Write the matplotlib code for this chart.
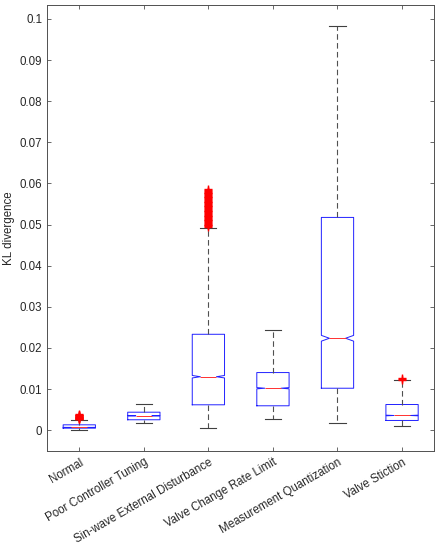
import matplotlib
matplotlib.use("Agg")
import matplotlib.pyplot as plt

categories = ["Normal", "Poor Controller Tuning", "Sin-wave External Disturbance",
              "Valve Change Rate Limit", "Measurement Quantization", "Valve Stiction"]
medians = [0.00066, 0.0035, 0.0130, 0.0102, 0.02235, 0.00357]
q1 = [0.00049, 0.00253, 0.00617, 0.00593, 0.0102, 0.00236]
q3 = [0.0013, 0.00437, 0.02332, 0.01401, 0.05174, 0.00624]
whisker_low = [0.0000, 0.0018, 0.00058, 0.0026, 0.0017, 0.0009]
whisker_high = [0.0025, 0.0064, 0.04907, 0.02439, 0.09837, 0.01214]
notch_half = [0.00002, 0.00005, 0.0003, 0.00015, 0.0007, 0.00008]
outliers = [
    [0.0026, 0.0027, 0.0028, 0.0029, 0.0030, 0.00305, 0.0031, 0.0032, 0.0033,
     0.0034, 0.0035, 0.0036, 0.0037, 0.0038, 0.0039],
    [],
    [0.0494, 0.0496, 0.0498, 0.0500, 0.0502, 0.0504, 0.0506, 0.0508, 0.0510,
     0.0512, 0.0514, 0.0516, 0.0518, 0.0520, 0.0522, 0.0524, 0.0526, 0.0528,
     0.0530, 0.0532, 0.0534, 0.0536, 0.0538, 0.0540, 0.0542, 0.0544, 0.0546,
     0.0548, 0.0550, 0.0552, 0.0554, 0.0556, 0.0558, 0.0560, 0.0562, 0.0564,
     0.0566, 0.0568, 0.0570, 0.0572, 0.0574, 0.0576, 0.0578, 0.0580, 0.0582,
     0.0584, 0.0586],
    [],
    [],
    [0.0123, 0.0124, 0.0126],
]
yticks = [0, 0.01, 0.02, 0.03, 0.04, 0.05, 0.06, 0.07, 0.08, 0.09, 0.1]
ytick_labels = ["0", "0.01", "0.02", "0.03", "0.04", "0.05", "0.06", "0.07", "0.08", "0.09", "0.1"]

plt.rcParams['font.family'] = ['Liberation Sans', 'DejaVu Sans']

stats = []
for i, name in enumerate(categories):
    stats.append(dict(label=name, med=medians[i], q1=q1[i], q3=q3[i],
                      whislo=whisker_low[i], whishi=whisker_high[i],
                      cilo=medians[i] - notch_half[i], cihi=medians[i] + notch_half[i],
                      fliers=outliers[i]))

fig = plt.figure(figsize=(4.44, 5.50), dpi=100)
ax = fig.add_axes([0.1059, 0.1805, 0.8723, 0.8104])

positions = list(range(1, len(categories) + 1))
ax.bxp(stats, positions=positions, widths=0.5, shownotches=True, showfliers=True,
       boxprops=dict(color='#2020ff', linewidth=0.7),
       medianprops=dict(color='#ff3030', linewidth=0.7),
       whiskerprops=dict(color='#505050', linewidth=0.8, linestyle=(0, (5, 3))),
       capprops=dict(color='#404040', linewidth=0.8),
       flierprops=dict(marker='+', markeredgecolor='#ff0000', markersize=5.5,
                       markeredgewidth=1.0, linestyle='none'))

ax.set_xlim(0.5, 6.5)
ax.set_ylim(-0.005, 0.1034)
ax.set_yticks(yticks)
ax.set_yticklabels(ytick_labels)
ax.set_xticks(positions)
ax.set_xticklabels(categories, rotation=30, ha='right', rotation_mode='anchor')
ax.tick_params(direction='in', length=3, width=0.6, color='#505050',
               labelcolor='#262626', labelsize=8.3, top=True, right=True)
ax.tick_params(axis='x', pad=4)
for s in ax.spines.values():
    s.set_color('#505050')
    s.set_linewidth(0.7)
ax.set_ylabel("KL divergence", fontsize=8.3, color='#262626', labelpad=3)

fig.savefig("out.png", dpi=100)
